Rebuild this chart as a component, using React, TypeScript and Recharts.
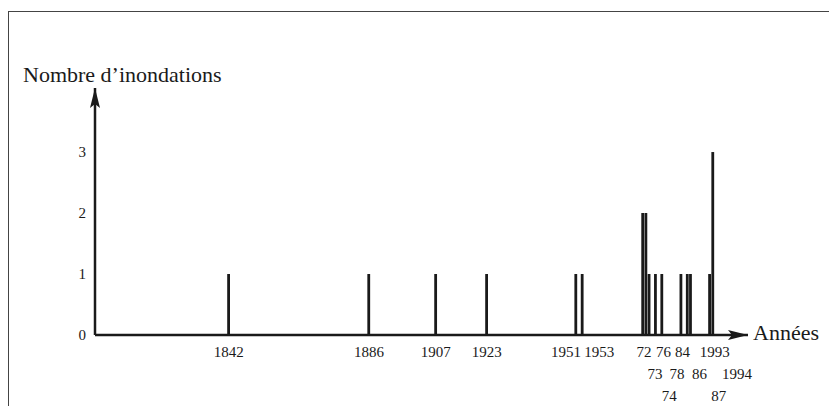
import React from 'react';
import { ComposedChart, Bar, XAxis, YAxis } from 'recharts';

// Années et nombre d'inondations
const years = [1842, 1886, 1907, 1923, 1951, 1953, 1972, 1973, 1974, 1976, 1978, 1984, 1986, 1987, 1993, 1994];
const floods = [1, 1, 1, 1, 1, 1, 2, 2, 1, 1, 1, 1, 1, 1, 1, 3];
const yearLabels = ['1842', '1886', '1907', '1923', '1951', '1953', '72', '73', '74', '76', '78', '84', '86', '87', '1993', '1994'];
const countTicks = [0, 1, 2, 3];

const data = years.map((year, i) => ({ year, floods: floods[i], label: yearLabels[i] }));

// layout of the staggered year labels (row, horizontal nudge in px)
const LABEL_ROW: Record<number, number> = { 1973: 1, 1978: 1, 1986: 1, 1994: 1, 1974: 2, 1987: 2 };
const LABEL_NUDGE: Record<number, number> = {
  1951: -10, 1953: 17, 1972: 1, 1973: 9, 1974: 20, 1976: 8, 1978: 15,
  1984: 1.5, 1986: 12, 1987: 28, 1993: 5, 1994: 24,
};

const FONT = '"Liberation Serif", "Times New Roman", serif';
const INK = '#1a1a1a';

function YearTick(props: any) {
  const { x, y, payload } = props;
  const year = payload.value as number;
  const idx = years.indexOf(year);
  const row = LABEL_ROW[year] ?? 0;
  const nudge = LABEL_NUDGE[year] ?? 0;
  return (
    <text
      x={x + nudge}
      y={y + 14 + row * 22}
      textAnchor="middle"
      fontFamily={FONT}
      fontSize={15}
      fill={INK}
    >
      {idx >= 0 ? yearLabels[idx] : year}
    </text>
  );
}

export default function App() {
  return (
    <div style={{ position: 'absolute', left: 0, top: 0, width: 829, height: 406, background: '#fff' }}>
      <div
        style={{
          position: 'absolute',
          left: 8,
          top: 11,
          width: 821,
          height: 395,
          borderTop: '1.5px solid #444',
          borderLeft: '1.5px solid #444',
          boxSizing: 'border-box',
        }}
      />
      <ComposedChart
        width={829}
        height={406}
        data={data}
        margin={{ top: 88, right: 81, left: 0, bottom: 0 }}
        style={{ position: 'absolute', left: 0, top: 0 }}
      >
        <defs>
          <marker
            id="arrowHead"
            markerUnits="userSpaceOnUse"
            markerWidth={21}
            markerHeight={11}
            refX={20}
            refY={5.5}
            orient="auto-start-reverse"
          >
            <path d="M0,0.5 L20,5.5 L0,10.5 L4,5.5 Z" fill={INK} />
          </marker>
        </defs>
        <XAxis
          dataKey="year"
          type="number"
          domain={[1800, 2005]}
          ticks={years}
          interval={0}
          height={71}
          tickLine={false}
          axisLine={{ stroke: INK, strokeWidth: 2.5, markerEnd: 'url(#arrowHead)' }}
          tick={<YearTick />}
          label={(p: any) => {
            const vb = p.viewBox;
            return (
              <text x={vb.x + vb.width + 5} y={vb.y + 5} fontFamily={FONT} fontSize={22} fill={INK}>
                Années
              </text>
            );
          }}
        />
        <YAxis
          type="number"
          domain={[0, 4.05]}
          ticks={countTicks}
          interval={0}
          width={95}
          tickLine={false}
          tickMargin={3}
          axisLine={{ stroke: INK, strokeWidth: 2.5, markerStart: 'url(#arrowHead)' }}
          tick={{ fontFamily: FONT, fontSize: 15, fill: INK }}
          label={(p: any) => {
            const vb = p.viewBox;
            return (
              <text x={23} y={vb.y - 6} fontFamily={FONT} fontSize={22} fill={INK}>
                Nombre d’inondations
              </text>
            );
          }}
        />
        <Bar dataKey="floods" fill={INK} barSize={2.8} isAnimationActive={false} />
      </ComposedChart>
    </div>
  );
}
